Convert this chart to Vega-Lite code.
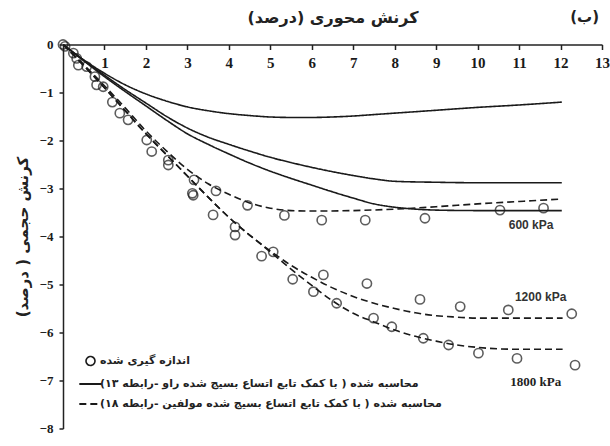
{
  "$schema": "https://vega.github.io/schema/vega-lite/v6.json",
  "width": 539,
  "height": 384,
  "autosize": "none",
  "padding": {"left": 63, "top": 44.5, "right": 8, "bottom": 17.5},
  "background": "white",
  "title": {"text": "(ب)", "anchor": "end", "frame": "group", "font": "DejaVu Sans", "fontSize": 15, "fontWeight": "bold", "color": "#222", "offset": -15, "dx": -3},
  "config": {"view": {"stroke": null}},
  "datasets": {
    "curves": [
      {"series": "s1", "kind": "r13", "x": 0, "y": 0}, {"series": "s1", "kind": "r13", "x": 0.5, "y": -0.32}, {"series": "s1", "kind": "r13", "x": 1, "y": -0.6}, {"series": "s1", "kind": "r13", "x": 1.5, "y": -0.84}, {"series": "s1", "kind": "r13", "x": 2, "y": -1.03}, {"series": "s1", "kind": "r13", "x": 2.5, "y": -1.18}, {"series": "s1", "kind": "r13", "x": 3, "y": -1.3}, {"series": "s1", "kind": "r13", "x": 3.5, "y": -1.38}, {"series": "s1", "kind": "r13", "x": 4, "y": -1.44}, {"series": "s1", "kind": "r13", "x": 4.5, "y": -1.48}, {"series": "s1", "kind": "r13", "x": 5, "y": -1.51}, {"series": "s1", "kind": "r13", "x": 5.5, "y": -1.52}, {"series": "s1", "kind": "r13", "x": 6, "y": -1.52}, {"series": "s1", "kind": "r13", "x": 6.5, "y": -1.51}, {"series": "s1", "kind": "r13", "x": 7, "y": -1.49}, {"series": "s1", "kind": "r13", "x": 7.5, "y": -1.46}, {"series": "s1", "kind": "r13", "x": 8, "y": -1.43}, {"series": "s1", "kind": "r13", "x": 9, "y": -1.37}, {"series": "s1", "kind": "r13", "x": 10, "y": -1.31}, {"series": "s1", "kind": "r13", "x": 11, "y": -1.26}, {"series": "s1", "kind": "r13", "x": 12.03, "y": -1.2},
      {"series": "s2", "kind": "r13", "x": 0, "y": 0}, {"series": "s2", "kind": "r13", "x": 0.5, "y": -0.33}, {"series": "s2", "kind": "r13", "x": 1, "y": -0.64}, {"series": "s2", "kind": "r13", "x": 1.5, "y": -0.94}, {"series": "s2", "kind": "r13", "x": 2, "y": -1.22}, {"series": "s2", "kind": "r13", "x": 2.5, "y": -1.5}, {"series": "s2", "kind": "r13", "x": 3, "y": -1.74}, {"series": "s2", "kind": "r13", "x": 3.5, "y": -1.93}, {"series": "s2", "kind": "r13", "x": 4, "y": -2.08}, {"series": "s2", "kind": "r13", "x": 4.5, "y": -2.22}, {"series": "s2", "kind": "r13", "x": 5, "y": -2.35}, {"series": "s2", "kind": "r13", "x": 5.5, "y": -2.46}, {"series": "s2", "kind": "r13", "x": 6, "y": -2.56}, {"series": "s2", "kind": "r13", "x": 6.5, "y": -2.65}, {"series": "s2", "kind": "r13", "x": 7, "y": -2.73}, {"series": "s2", "kind": "r13", "x": 7.5, "y": -2.8}, {"series": "s2", "kind": "r13", "x": 8, "y": -2.85}, {"series": "s2", "kind": "r13", "x": 9, "y": -2.87}, {"series": "s2", "kind": "r13", "x": 10, "y": -2.88}, {"series": "s2", "kind": "r13", "x": 11, "y": -2.88}, {"series": "s2", "kind": "r13", "x": 12.03, "y": -2.88},
      {"series": "s3", "kind": "r13", "x": 0, "y": 0}, {"series": "s3", "kind": "r13", "x": 0.5, "y": -0.34}, {"series": "s3", "kind": "r13", "x": 1, "y": -0.67}, {"series": "s3", "kind": "r13", "x": 1.5, "y": -0.98}, {"series": "s3", "kind": "r13", "x": 2, "y": -1.28}, {"series": "s3", "kind": "r13", "x": 2.5, "y": -1.58}, {"series": "s3", "kind": "r13", "x": 3, "y": -1.86}, {"series": "s3", "kind": "r13", "x": 3.5, "y": -2.08}, {"series": "s3", "kind": "r13", "x": 4, "y": -2.28}, {"series": "s3", "kind": "r13", "x": 4.5, "y": -2.47}, {"series": "s3", "kind": "r13", "x": 5, "y": -2.64}, {"series": "s3", "kind": "r13", "x": 5.5, "y": -2.79}, {"series": "s3", "kind": "r13", "x": 6, "y": -2.93}, {"series": "s3", "kind": "r13", "x": 6.5, "y": -3.07}, {"series": "s3", "kind": "r13", "x": 7, "y": -3.2}, {"series": "s3", "kind": "r13", "x": 7.5, "y": -3.32}, {"series": "s3", "kind": "r13", "x": 8, "y": -3.39}, {"series": "s3", "kind": "r13", "x": 8.5, "y": -3.43}, {"series": "s3", "kind": "r13", "x": 9, "y": -3.45}, {"series": "s3", "kind": "r13", "x": 10, "y": -3.46}, {"series": "s3", "kind": "r13", "x": 11, "y": -3.46}, {"series": "s3", "kind": "r13", "x": 12.03, "y": -3.46},
      {"series": "d600", "kind": "r18", "x": 0, "y": 0}, {"series": "d600", "kind": "r18", "x": 0.5, "y": -0.42}, {"series": "d600", "kind": "r18", "x": 1, "y": -0.86}, {"series": "d600", "kind": "r18", "x": 1.5, "y": -1.32}, {"series": "d600", "kind": "r18", "x": 2, "y": -1.8}, {"series": "d600", "kind": "r18", "x": 2.5, "y": -2.22}, {"series": "d600", "kind": "r18", "x": 3, "y": -2.6}, {"series": "d600", "kind": "r18", "x": 3.5, "y": -2.9}, {"series": "d600", "kind": "r18", "x": 4, "y": -3.12}, {"series": "d600", "kind": "r18", "x": 4.5, "y": -3.3}, {"series": "d600", "kind": "r18", "x": 5, "y": -3.41}, {"series": "d600", "kind": "r18", "x": 5.5, "y": -3.46}, {"series": "d600", "kind": "r18", "x": 6, "y": -3.47}, {"series": "d600", "kind": "r18", "x": 7, "y": -3.46}, {"series": "d600", "kind": "r18", "x": 8, "y": -3.43}, {"series": "d600", "kind": "r18", "x": 9, "y": -3.38}, {"series": "d600", "kind": "r18", "x": 10, "y": -3.32}, {"series": "d600", "kind": "r18", "x": 11, "y": -3.27}, {"series": "d600", "kind": "r18", "x": 12.03, "y": -3.22},
      {"series": "d1200", "kind": "r18", "x": 0, "y": 0}, {"series": "d1200", "kind": "r18", "x": 0.5, "y": -0.44}, {"series": "d1200", "kind": "r18", "x": 1, "y": -0.9}, {"series": "d1200", "kind": "r18", "x": 1.5, "y": -1.38}, {"series": "d1200", "kind": "r18", "x": 2, "y": -1.86}, {"series": "d1200", "kind": "r18", "x": 2.5, "y": -2.3}, {"series": "d1200", "kind": "r18", "x": 3, "y": -2.74}, {"series": "d1200", "kind": "r18", "x": 3.5, "y": -3.18}, {"series": "d1200", "kind": "r18", "x": 4, "y": -3.6}, {"series": "d1200", "kind": "r18", "x": 4.5, "y": -3.97}, {"series": "d1200", "kind": "r18", "x": 5, "y": -4.3}, {"series": "d1200", "kind": "r18", "x": 5.5, "y": -4.6}, {"series": "d1200", "kind": "r18", "x": 6, "y": -4.85}, {"series": "d1200", "kind": "r18", "x": 6.5, "y": -5.07}, {"series": "d1200", "kind": "r18", "x": 7, "y": -5.25}, {"series": "d1200", "kind": "r18", "x": 7.5, "y": -5.39}, {"series": "d1200", "kind": "r18", "x": 8, "y": -5.5}, {"series": "d1200", "kind": "r18", "x": 8.5, "y": -5.59}, {"series": "d1200", "kind": "r18", "x": 9, "y": -5.65}, {"series": "d1200", "kind": "r18", "x": 9.5, "y": -5.68}, {"series": "d1200", "kind": "r18", "x": 10, "y": -5.7}, {"series": "d1200", "kind": "r18", "x": 11, "y": -5.7}, {"series": "d1200", "kind": "r18", "x": 12.05, "y": -5.7},
      {"series": "d1800", "kind": "r18", "x": 0, "y": 0}, {"series": "d1800", "kind": "r18", "x": 0.5, "y": -0.44}, {"series": "d1800", "kind": "r18", "x": 1, "y": -0.9}, {"series": "d1800", "kind": "r18", "x": 1.5, "y": -1.38}, {"series": "d1800", "kind": "r18", "x": 2, "y": -1.86}, {"series": "d1800", "kind": "r18", "x": 2.5, "y": -2.3}, {"series": "d1800", "kind": "r18", "x": 3, "y": -2.74}, {"series": "d1800", "kind": "r18", "x": 3.5, "y": -3.18}, {"series": "d1800", "kind": "r18", "x": 4, "y": -3.6}, {"series": "d1800", "kind": "r18", "x": 4.5, "y": -3.97}, {"series": "d1800", "kind": "r18", "x": 5, "y": -4.32}, {"series": "d1800", "kind": "r18", "x": 5.5, "y": -4.68}, {"series": "d1800", "kind": "r18", "x": 6, "y": -5.02}, {"series": "d1800", "kind": "r18", "x": 6.5, "y": -5.34}, {"series": "d1800", "kind": "r18", "x": 7, "y": -5.6}, {"series": "d1800", "kind": "r18", "x": 7.5, "y": -5.78}, {"series": "d1800", "kind": "r18", "x": 8, "y": -5.95}, {"series": "d1800", "kind": "r18", "x": 8.5, "y": -6.08}, {"series": "d1800", "kind": "r18", "x": 9, "y": -6.18}, {"series": "d1800", "kind": "r18", "x": 9.5, "y": -6.26}, {"series": "d1800", "kind": "r18", "x": 10, "y": -6.31}, {"series": "d1800", "kind": "r18", "x": 11, "y": -6.35}, {"series": "d1800", "kind": "r18", "x": 12.05, "y": -6.35}
    ],
    "measured": [
      {"kind": "m", "x": 0, "y": 0}, {"kind": "m", "x": 0.05, "y": -0.04}, {"kind": "m", "x": 0.25, "y": -0.18}, {"kind": "m", "x": 0.33, "y": -0.29}, {"kind": "m", "x": 0.37, "y": -0.43}, {"kind": "m", "x": 0.57, "y": -0.46}, {"kind": "m", "x": 0.77, "y": -0.67}, {"kind": "m", "x": 0.81, "y": -0.84}, {"kind": "m", "x": 0.97, "y": -0.88}, {"kind": "m", "x": 1.19, "y": -1.2}, {"kind": "m", "x": 1.37, "y": -1.43}, {"kind": "m", "x": 1.57, "y": -1.57}, {"kind": "m", "x": 2.02, "y": -1.99}, {"kind": "m", "x": 2.14, "y": -2.23}, {"kind": "m", "x": 2.54, "y": -2.41}, {"kind": "m", "x": 2.54, "y": -2.51}, {"kind": "m", "x": 3.16, "y": -2.82}, {"kind": "m", "x": 3.14, "y": -3.14}, {"kind": "m", "x": 3.12, "y": -3.1}, {"kind": "m", "x": 3.69, "y": -3.05}, {"kind": "m", "x": 3.62, "y": -3.55}, {"kind": "m", "x": 4.45, "y": -3.35}, {"kind": "m", "x": 4.15, "y": -3.8}, {"kind": "m", "x": 4.15, "y": -3.97}, {"kind": "m", "x": 4.79, "y": -4.41}, {"kind": "m", "x": 5.07, "y": -4.32}, {"kind": "m", "x": 5.34, "y": -3.56}, {"kind": "m", "x": 6.24, "y": -3.66}, {"kind": "m", "x": 7.29, "y": -3.66}, {"kind": "m", "x": 8.73, "y": -3.62}, {"kind": "m", "x": 10.54, "y": -3.45}, {"kind": "m", "x": 11.59, "y": -3.41},
      {"kind": "m", "x": 5.54, "y": -4.89}, {"kind": "m", "x": 6.28, "y": -4.8}, {"kind": "m", "x": 7.33, "y": -4.98}, {"kind": "m", "x": 8.61, "y": -5.31}, {"kind": "m", "x": 9.58, "y": -5.46}, {"kind": "m", "x": 10.74, "y": -5.53}, {"kind": "m", "x": 12.27, "y": -5.61},
      {"kind": "m", "x": 6.04, "y": -5.15}, {"kind": "m", "x": 6.6, "y": -5.39}, {"kind": "m", "x": 7.49, "y": -5.7}, {"kind": "m", "x": 7.93, "y": -5.88}, {"kind": "m", "x": 8.69, "y": -6.12}, {"kind": "m", "x": 9.3, "y": -6.26}, {"kind": "m", "x": 10.02, "y": -6.43}, {"kind": "m", "x": 10.95, "y": -6.54}, {"kind": "m", "x": 12.35, "y": -6.68}
    ],
    "labels": [
      {"x": 11.29, "y": -3.76, "text": "600 kPa"},
      {"x": 11.52, "y": -5.26, "text": "1200 kPa"},
      {"x": 11.4, "y": -7.03, "text": "1800 kPa"}
    ]
  },
  "encoding": {
    "x": {
      "field": "x", "type": "quantitative",
      "scale": {"domain": [0, 13], "nice": false, "zero": false},
      "axis": {
        "orient": "bottom", "offset": -384, "values": [1, 2, 3, 4, 5, 6, 7, 8, 9, 10, 11, 12, 13],
        "grid": false, "domainColor": "#222", "domainWidth": 1.5, "tickColor": "#222", "tickWidth": 1.5, "tickSize": 5,
        "labelPadding": 6, "labelFont": "Liberation Serif", "labelFontSize": 15, "labelFontWeight": "bold", "labelColor": "#1a1a1a",
        "labelFlush": false, "labelOverlap": false,
        "title": "کرنش محوری (درصد)", "titleFont": "DejaVu Sans", "titleFontSize": 16, "titleFontWeight": "bold", "titleColor": "#222",
        "titleBaseline": "middle", "titleY": -27
      }
    },
    "y": {
      "field": "y", "type": "quantitative",
      "scale": {"domain": [-8, 0], "nice": false, "zero": false},
      "axis": {
        "values": [0, -1, -2, -3, -4, -5, -6, -7, -8],
        "grid": false, "domainColor": "#222", "domainWidth": 1.5, "tickColor": "#222", "tickWidth": 1.5, "tickSize": 4,
        "labelPadding": 6, "labelFont": "Liberation Serif", "labelFontSize": 13, "labelFontWeight": "bold", "labelColor": "#1a1a1a",
        "labelFlush": false, "labelOverlap": false,
        "title": "کرنش حجمی ( درصد)", "titleFont": "DejaVu Sans", "titleFontSize": 15, "titleFontWeight": "bold", "titleColor": "#222",
        "titlePadding": 9
      }
    }
  },
  "layer": [
    {
      "data": {"name": "curves"},
      "mark": {"type": "line", "strokeWidth": 1.6, "interpolate": "monotone", "clip": true},
      "encoding": {
        "detail": {"field": "series"},
        "strokeDash": {"field": "kind", "scale": {"domain": ["m", "r13", "r18"], "range": [[1, 0], [1, 0], [7, 4]]}, "legend": null},
        "color": {
          "field": "kind",
          "scale": {"domain": ["m", "r13", "r18"], "range": ["#1a1a1a", "#1a1a1a", "#1a1a1a"]},
          "legend": {
            "title": null, "orient": "none", "legendX": 22, "legendY": 311, "padding": 0,
            "labelFont": "DejaVu Sans", "labelFontSize": 11, "labelFontWeight": "bold", "labelColor": "#222", "labelLimit": 0,
            "labelOffset": 4, "symbolSize": 500, "rowPadding": 8,
            "labelExpr": "datum.value === 'm' ? 'اندازه گیری شده' : datum.value === 'r13' ? 'محاسبه شده ( با کمک تابع اتساع بسیج شده راو -رابطه ۱۳)' : 'محاسبه شده ( با کمک تابع اتساع بسیج شده مولفین -رابطه ۱۸)'",
            "encode": {
              "symbols": {
                "update": {
                  "shape": {"signal": "datum.index === 0 ? 'circle' : 'stroke'"},
                  "size": {"signal": "datum.index === 0 ? 80 : 500"},
                  "strokeDash": {"signal": "datum.index === 2 ? [5, 4] : [1, 0]"},
                  "fill": {"value": "transparent"},
                  "stroke": {"value": "#1a1a1a"},
                  "strokeWidth": {"signal": "datum.index === 0 ? 1.6 : 2"}
                }
              }
            }
          }
        }
      }
    },
    {
      "data": {"name": "measured"},
      "mark": {"type": "point", "filled": false, "size": 85, "strokeWidth": 1.6},
      "encoding": {
        "color": {"field": "kind"}
      }
    },
    {
      "data": {"name": "labels"},
      "transform": [{"filter": "datum.text !== '1800 kPa'"}],
      "mark": {"type": "text", "font": "Liberation Sans", "fontSize": 12, "fontWeight": "bold", "color": "#333"},
      "encoding": {"text": {"field": "text"}}
    },
    {
      "data": {"name": "labels"},
      "transform": [{"filter": "datum.text === '1800 kPa'"}],
      "mark": {"type": "text", "font": "Liberation Serif", "fontSize": 13, "fontWeight": "bold", "color": "#222"},
      "encoding": {"text": {"field": "text"}}
    }
  ]
}
